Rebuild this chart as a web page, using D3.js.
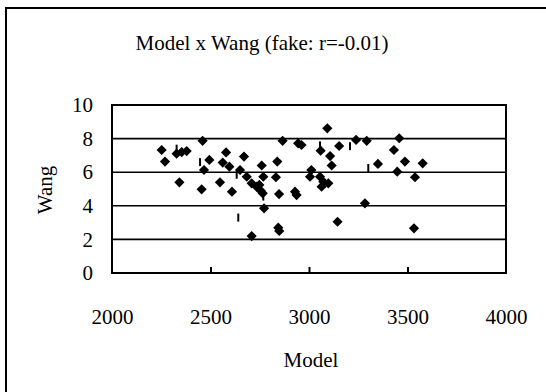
<!DOCTYPE html>
<html>
<head>
<meta charset="utf-8">
<script src="https://cdn.jsdelivr.net/npm/d3@7"></script>
<style>
  body { margin: 0; background: #fff; }
  text { font-family: "Liberation Serif", "Times New Roman", serif; fill: #000; }
</style>
</head>
<body>
<div id="chart"></div>
<script>
// model values (x) and Wang values (y), diamonds
var modelX = [2252, 2269, 2328, 2354, 2379, 2342, 2460, 2494, 2467, 2455,
              2548, 2562, 2579, 2596, 2609, 2650, 2670, 2684, 2709, 2734,
              2709, 2748, 2755, 2765, 2760, 2772, 2768, 2832, 2839, 2848,
              2844, 2849, 2866, 2929, 2937, 2945, 2962, 3005, 3012, 3056,
              3073, 3064, 3098, 3059, 3093, 3107, 3115, 3153, 3145, 3239,
              3293, 3284, 3350, 3431, 3458, 3448, 3487, 3538, 3577, 3533];
var wangY  = [7.32, 6.63, 7.10, 7.20, 7.26, 5.40, 7.87, 6.73, 6.13, 4.98,
              5.40, 6.57, 7.18, 6.33, 4.84, 6.13, 6.93, 5.73, 5.34, 5.14,
              2.20, 5.24, 4.90, 4.74, 6.40, 3.85, 5.73, 5.70, 6.63, 4.70,
              2.70, 2.50, 7.87, 4.84, 4.64, 7.72, 7.62, 5.73, 6.13, 5.73,
              5.43, 5.14, 5.34, 7.28, 8.61, 6.96, 6.40, 7.56, 3.05, 7.92,
              7.87, 4.15, 6.49, 7.32, 8.02, 6.03, 6.63, 5.70, 6.53, 2.66];
// short vertical dash markers
var dashX = [2328, 2447, 2633, 2641, 2768, 3056, 3208, 3301];
var dashY = [7.40, 6.60, 5.85, 3.30, 4.55, 7.60, 7.55, 6.25];

var xTicks = [2000, 2500, 3000, 3500, 4000];
var yTicks = [0, 2, 4, 6, 8, 10];

var W = 546, H = 392;
var plotL = 112, plotR = 506, plotT = 105, plotB = 273;

var svg = d3.select("#chart").append("svg").attr("width", W).attr("height", H);

// outer chart frame (runs off the right and bottom edges)
svg.append("rect").attr("x", 6).attr("y", 8).attr("width", 600).attr("height", 450)
  .attr("fill", "none").attr("stroke", "#000").attr("stroke-width", 2);

var x = d3.scaleLinear().domain([2000, 4000]).range([plotL, plotR]);
var y = d3.scaleLinear().domain([0, 10]).range([plotB, plotT]);

// gridlines
svg.append("g").selectAll("line").data(yTicks).enter().append("line")
  .attr("x1", plotL).attr("x2", plotR)
  .attr("y1", function(d) { return y(d); }).attr("y2", function(d) { return y(d); })
  .attr("stroke", "#000").attr("stroke-width", 1.6);

// plot frame
svg.append("rect").attr("x", plotL).attr("y", plotT)
  .attr("width", plotR - plotL).attr("height", plotB - plotT)
  .attr("fill", "none").attr("stroke", "#000").attr("stroke-width", 2);

// x axis: ticks pointing inward
var xAxis = d3.axisBottom(x).tickValues(xTicks).tickSize(-6).tickPadding(36).tickFormat(d3.format("d"));
var gx = svg.append("g").attr("transform", "translate(0," + plotB + ")").call(xAxis);
gx.select(".domain").remove();
gx.selectAll(".tick line").attr("stroke", "#000").attr("stroke-width", 2);
gx.selectAll(".tick").filter(function(d) { return d == 2000 || d == 4000; }).select("line").remove();
gx.selectAll("text").attr("font-size", 21).attr("font-family", "Liberation Serif");

var yAxis = d3.axisLeft(y).tickValues(yTicks).tickSize(0).tickPadding(19);
var gy = svg.append("g").attr("transform", "translate(" + plotL + ",0)").call(yAxis);
gy.select(".domain").remove();
gy.selectAll("text").attr("font-size", 21).attr("font-family", "Liberation Serif");

// points
var pts = modelX.map(function(v, i) { return {x: v, y: wangY[i]}; });
var diamond = d3.symbol().type(d3.symbolSquare).size(52);
svg.append("g").selectAll("path").data(pts).enter().append("path")
  .attr("d", diamond)
  .attr("transform", function(d) { return "translate(" + x(d.x) + "," + y(d.y) + ") rotate(45)"; })
  .attr("fill", "#000");

var dashes = dashX.map(function(v, i) { return {x: v, y: dashY[i]}; });
svg.append("g").selectAll("line").data(dashes).enter().append("line")
  .attr("x1", function(d) { return x(d.x); }).attr("x2", function(d) { return x(d.x); })
  .attr("y1", function(d) { return y(d.y) - 4; }).attr("y2", function(d) { return y(d.y) + 4; })
  .attr("stroke", "#000").attr("stroke-width", 2);

// titles
svg.append("text").attr("x", 262).attr("y", 50).attr("text-anchor", "middle")
  .attr("font-size", 21).text("Model x Wang (fake: r=-0.01)");
svg.append("text").attr("x", 311).attr("y", 367).attr("text-anchor", "middle")
  .attr("font-size", 21).text("Model");
svg.append("text").attr("transform", "translate(52,190) rotate(-90)").attr("text-anchor", "middle")
  .attr("font-size", 21).text("Wang");
</script>
</body>
</html>
